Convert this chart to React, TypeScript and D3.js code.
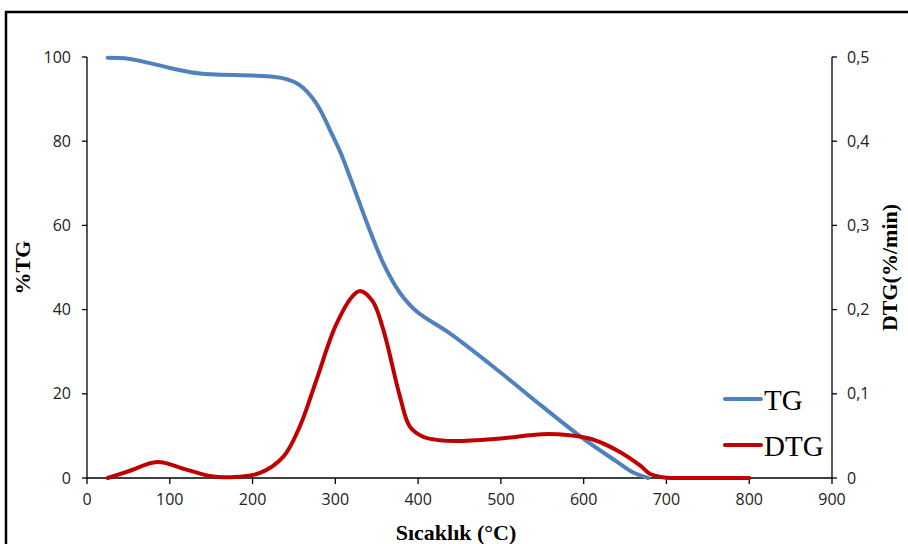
import React from "react";
import * as d3 from "d3";

const tgTemp = [25, 50, 75, 100, 125, 150, 200, 225, 240, 257, 277, 297, 308, 318, 328, 338, 358, 378, 398, 438, 500, 550, 600, 640, 660, 678];
const tgValue = [99.8, 99.6, 98.6, 97.4, 96.4, 95.9, 95.6, 95.3, 94.8, 93.3, 89, 81.2, 76.5, 71.3, 66, 60.7, 51, 44, 39.6, 34.4, 25, 17, 9.3, 3.9, 1.3, 0];

const dtgTemp = [25, 50, 85, 120, 150, 175, 209, 237, 257, 277, 300, 320, 330, 345, 358, 378, 390, 406, 425, 450, 500, 550, 580, 610, 640, 668, 680, 695, 715, 760, 800];
const dtgValue = [0.0, 0.008, 0.019, 0.01, 0.002, 0.001, 0.006, 0.025, 0.061, 0.116, 0.18, 0.215, 0.222, 0.21, 0.176, 0.097, 0.061, 0.049, 0.045, 0.044, 0.047, 0.052, 0.051, 0.046, 0.033, 0.015, 0.005, 0.001, 0.0, 0.0, 0.0];

const xTicks = [0, 100, 200, 300, 400, 500, 600, 700, 800, 900];
const yLeftTicks = [0, 20, 40, 60, 80, 100];
const yRightTicks = [0, 0.1, 0.2, 0.3, 0.4, 0.5];

const seriesNames = ["TG", "DTG"];
const colors = ["#4F81BD", "#C00000"];

export default function App() {
  const left = 87, right = 832, top = 57, bottom = 478;
  const x = d3.scaleLinear().domain([0, 900]).range([left, right]);
  const yL = d3.scaleLinear().domain([0, 100]).range([bottom, top]);
  const yR = d3.scaleLinear().domain([0, 0.5]).range([bottom, top]);

  const curve = d3.curveCatmullRom.alpha(0.5);
  const tgLine = d3.line<number>().x((_, i) => x(tgTemp[i])).y((d) => yL(d)).curve(curve)(tgValue) || "";
  const dtgLine = d3.line<number>().x((_, i) => x(dtgTemp[i])).y((d) => yR(Math.max(0, d))).curve(curve)(dtgValue) || "";

  const tickFont = "'Open Sans', sans-serif";
  const serif = "'Liberation Serif', 'Times New Roman', serif";
  const fmt = (v: number) => (v === 0 ? "0" : String(v).replace(".", ","));

  return (
    <svg width={908} height={544} style={{ position: "absolute", left: 0, top: 0, background: "#fff" }}>
      <rect x={0} y={0} width={908} height={544} fill="#fff" />
      <rect x={6} y={12} width={920} height={560} fill="none" stroke="#000" strokeWidth={2.5} />
      {/* axes */}
      <line x1={left} y1={top} x2={left} y2={bottom} stroke="#000" strokeWidth={1.3} />
      <line x1={right} y1={top} x2={right} y2={bottom} stroke="#000" strokeWidth={1.3} />
      <line x1={left} y1={bottom} x2={right} y2={bottom} stroke="#000" strokeWidth={1.3} />
      {yLeftTicks.map((t) => (
        <g key={"l" + t}>
          <line x1={left - 5} x2={left} y1={yL(t)} y2={yL(t)} stroke="#000" strokeWidth={1.3} />
          <text x={left - 16} y={yL(t)} dy="0.35em" textAnchor="end" fontSize={16} fontFamily={tickFont} fill="#222">{t}</text>
        </g>
      ))}
      {yRightTicks.map((t) => (
        <g key={"r" + t}>
          <line x1={right} x2={right + 5} y1={yR(t)} y2={yR(t)} stroke="#000" strokeWidth={1.3} />
          <text x={right + 15} y={yR(t)} dy="0.35em" textAnchor="start" fontSize={16} fontFamily={tickFont} fill="#222">{fmt(t)}</text>
        </g>
      ))}
      {xTicks.map((t) => (
        <g key={"x" + t}>
          <line x1={x(t)} x2={x(t)} y1={bottom} y2={bottom + 6} stroke="#000" strokeWidth={1.3} />
          <text x={x(t)} y={bottom + 27} textAnchor="middle" fontSize={16} fontFamily={tickFont} fill="#222">{t}</text>
        </g>
      ))}
      {/* series */}
      <path d={tgLine} fill="none" stroke={colors[0]} strokeWidth={4} strokeLinejoin="round" strokeLinecap="round" />
      <path d={dtgLine} fill="none" stroke={colors[1]} strokeWidth={4} strokeLinejoin="round" strokeLinecap="round" />
      {/* titles */}
      <text x={456} y={540} textAnchor="middle" fontSize={22} fontWeight="bold" fontFamily={serif}>Sıcaklık (°C)</text>
      <text transform={`translate(30,${(top + bottom) / 2}) rotate(-90)`} textAnchor="middle" fontSize={22} fontWeight="bold" fontFamily={serif}>%TG</text>
      <text transform={`translate(897,${(top + bottom) / 2}) rotate(-90)`} textAnchor="middle" fontSize={22} fontWeight="bold" fontFamily={serif}>DTG(%/min)</text>
      {/* legend */}
      {seriesNames.map((n, i) => (
        <g key={n}>
          <line x1={725} x2={761} y1={399 + i * 46} y2={399 + i * 46} stroke={colors[i]} strokeWidth={4} strokeLinecap="round" />
          <text x={764} y={400 + i * 46} dy="0.35em" fontSize={29} fontFamily={serif}>{n}</text>
        </g>
      ))}
    </svg>
  );
}
